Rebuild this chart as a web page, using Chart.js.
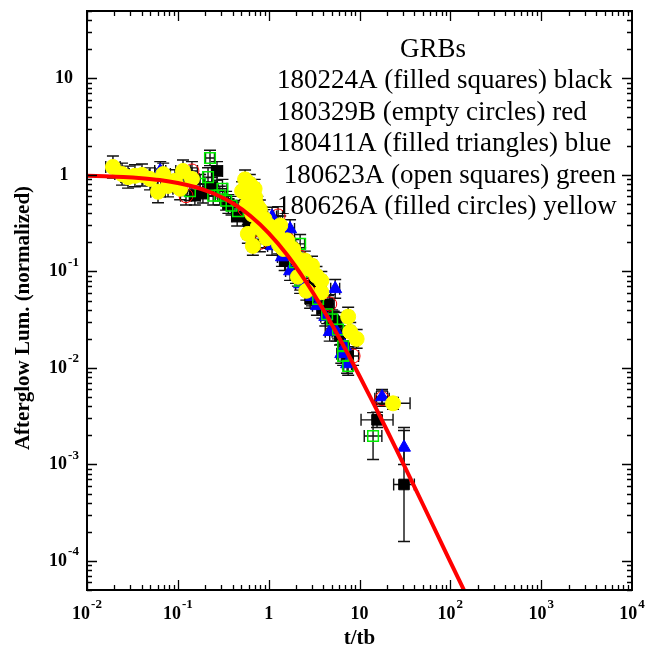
<!DOCTYPE html>
<html>
<head>
<meta charset="utf-8">
<title>GRB afterglow luminosity</title>
<script src="https://cdn.jsdelivr.net/npm/chart.js@4"></script>
<style>
  html, body { margin: 0; padding: 0; background: #fff; }
  canvas { display: block; }
</style>
</head>
<body>
<canvas id="lumChart" width="657" height="651"></canvas>
<script>
// Normalized afterglow light curves, t/tb vs L/Lb
// each point: [t/tb, L, t error factor, L error factor] (errors are x/÷ factors)

const grb180224A = [
    [0.27, 1.10, 1.15, 1.25], [0.154, 0.61, 1.15, 1.25], [0.189, 0.64, 1.15, 1.25],
    [0.237, 0.75, 1.15, 1.25], [0.45, 0.37, 1.15, 1.25], [0.36, 0.50, 1.15, 1.25],
    [0.6, 0.33, 1.12, 1.25], [0.8, 0.27, 1.12, 1.25], [1.2, 0.25, 1.12, 1.25],
    [0.98, 0.217, 1.12, 1.25], [1.5, 0.128, 1.12, 1.25], [1.8, 0.16, 1.12, 1.25],
    [2.0, 0.094, 1.12, 1.25], [2.4, 0.11, 1.12, 1.25], [2.86, 0.052, 1.12, 1.25],
    [3.2, 0.075, 1.12, 1.25], [3.5, 0.066, 1.12, 1.25], [3.9, 0.041, 1.12, 1.25],
    [4.5, 0.045, 1.12, 1.25], [5.2, 0.031, 1.12, 1.25], [5.5, 0.030, 1.12, 1.25],
    [6.1, 0.0216, 1.12, 1.25], [7.5, 0.0133, 1.12, 1.25],
    [15.6, 0.0029, 1.5, 1.2], [30.9, 0.00062, 1.3, 3.9]
];

const grb180329B = [
    [0.143, 1.10, 1.15, 1.25], [0.123, 0.61, 1.15, 1.25], [0.55, 0.44, 1.12, 1.25],
    [0.84, 0.37, 1.12, 1.25], [0.80, 0.20, 1.12, 1.25], [1.27, 0.376, 1.12, 1.25],
    [1.6, 0.217, 1.12, 1.25], [2.22, 0.141, 1.12, 1.25], [3.25, 0.080, 1.12, 1.25],
    [4.7, 0.046, 1.12, 1.25], [8.5, 0.0133, 1.15, 1.25], [17.7, 0.0048, 1.2, 1.2]
];

const grb180411A = [
    [0.064, 1.10, 1.15, 1.25], [0.71, 0.39, 1.12, 1.25], [1.09, 0.37, 1.12, 1.25],
    [1.72, 0.275, 1.12, 1.25], [1.09, 0.184, 1.12, 1.25], [1.72, 0.207, 1.12, 1.25],
    [1.4, 0.141, 1.12, 1.25], [1.72, 0.101, 1.12, 1.25], [2.22, 0.074, 1.12, 1.25],
    [3.0, 0.055, 1.12, 1.25], [3.4, 0.044, 1.12, 1.25], [5.4, 0.066, 1.12, 1.25],
    [4.2, 0.034, 1.12, 1.25], [4.7, 0.0237, 1.12, 1.25], [5.6, 0.0237, 1.12, 1.25],
    [6.9, 0.0168, 1.12, 1.25], [7.3, 0.011, 1.12, 1.25], [6.3, 0.014, 1.12, 1.25],
    [17.7, 0.0050, 1.15, 1.2], [30.9, 0.0015, 1.0, 1.5]
];

const grb180623A = [
    [0.226, 1.50, 1.12, 1.2], [0.215, 0.95, 1.12, 1.25], [0.176, 0.81, 1.12, 1.25],
    [0.136, 0.68, 1.12, 1.25], [0.245, 0.61, 1.12, 1.25], [0.29, 0.61, 1.12, 1.25],
    [0.34, 0.54, 1.12, 1.25], [0.39, 0.48, 1.12, 1.25], [0.31, 0.72, 1.12, 1.25],
    [0.46, 0.42, 1.12, 1.25], [1.5, 0.193, 1.12, 1.25], [2.22, 0.193, 1.12, 1.25],
    [1.95, 0.125, 1.12, 1.25], [2.22, 0.080, 1.12, 1.25], [2.5, 0.101, 1.12, 1.25],
    [3.5, 0.052, 1.12, 1.25], [4.4, 0.036, 1.12, 1.25], [5.0, 0.032, 1.12, 1.25],
    [5.8, 0.025, 1.12, 1.25], [6.6, 0.0168, 1.12, 1.25], [6.6, 0.0133, 1.12, 1.25],
    [7.5, 0.0105, 1.12, 1.25], [14.1, 0.00197, 1.25, 1.75]
];

const grb180626A = [
    [0.0193, 1.21, 1.2, 1.3], [0.0243, 1.02, 1.2, 1.3], [0.0283, 0.95, 1.2, 1.3],
    [0.0337, 0.98, 1.2, 1.3], [0.0403, 1.0, 1.2, 1.3], [0.0494, 0.91, 1.2, 1.3],
    [0.0605, 0.67, 1.2, 1.3], [0.069, 1.02, 1.2, 1.3], [0.078, 0.77, 1.2, 1.3],
    [0.093, 0.87, 1.2, 1.3], [0.106, 0.72, 1.2, 1.3], [0.114, 1.10, 1.2, 1.3],
    [0.143, 0.91, 1.2, 1.3], [0.51, 0.68, 1.12, 1.25], [0.58, 0.50, 1.12, 1.25],
    [0.62, 0.81, 1.12, 1.25], [0.66, 0.39, 1.12, 1.25], [0.71, 0.59, 1.12, 1.25],
    [0.76, 0.29, 1.12, 1.25], [0.67, 0.184, 1.12, 1.25], [0.80, 0.44, 1.12, 1.25],
    [0.87, 0.26, 1.12, 1.25], [0.59, 0.245, 1.12, 1.25], [0.70, 0.72, 1.12, 1.25],
    [0.55, 0.90, 1.12, 1.25], [0.60, 0.62, 1.12, 1.25], [0.75, 0.48, 1.12, 1.25],
    [0.90, 0.35, 1.12, 1.25], [1.0, 0.30, 1.12, 1.25], [1.1, 0.26, 1.12, 1.25],
    [0.95, 0.22, 1.12, 1.25], [1.6, 0.21, 1.12, 1.25], [1.3, 0.19, 1.12, 1.25],
    [2.0, 0.14, 1.12, 1.25], [2.5, 0.13, 1.12, 1.25], [3.0, 0.115, 1.12, 1.25],
    [1.34, 0.30, 1.12, 1.25], [1.24, 0.245, 1.12, 1.25], [1.45, 0.171, 1.12, 1.25],
    [1.86, 0.171, 1.12, 1.25], [2.31, 0.120, 1.12, 1.25], [2.1, 0.088, 1.12, 1.25],
    [2.86, 0.106, 1.12, 1.25], [3.36, 0.090, 1.12, 1.25], [3.8, 0.080, 1.12, 1.25],
    [2.6, 0.063, 1.12, 1.25], [3.8, 0.061, 1.12, 1.25], [7.5, 0.034, 1.12, 1.25],
    [7.9, 0.0237, 1.12, 1.25], [9.3, 0.020, 1.12, 1.25], [23.4, 0.0043, 1.54, 1.15]
];

// fitted curve
const fitT = [0.01, 0.0158, 0.0251, 0.0398, 0.0631, 0.1, 0.158, 0.251, 0.398, 0.631, 1.0,
              1.585, 2.512, 3.981, 6.31, 10, 15.85, 25.12, 39.8, 63.1, 100, 158.5];
const fitL = [0.980, 0.969, 0.952, 0.925, 0.886, 0.826, 0.745, 0.639, 0.512, 0.376, 0.25,
              0.150, 0.0811, 0.0403, 0.0187, 0.00826, 0.00352, 0.00147, 0.000601, 0.000243,
              0.000098, 0.0000398];

const xTicks = [0.01, 0.1, 1, 10, 100, 1000, 10000];
const xTickLabels = [['10', '-2'], ['10', '-1'], ['1', ''], ['10', ''], ['10', '2'], ['10', '3'], ['10', '4']];
const yTicks = [0.0001, 0.001, 0.01, 0.1, 1, 10];
const yTickLabels = [['10', '-4'], ['10', '-3'], ['10', '-2'], ['10', '-1'], ['1', ''], ['10', '']];

const legendTitle = 'GRBs';
const legendLines = [
    '180224A (filled squares) black',
    '180329B (empty circles) red',
    '180411A (filled triangles) blue',
    ' 180623A (open squares) green',
    '180626A (filled circles) yellow'
];

const SERIF = '"Liberation Serif", "Times New Roman", serif';

function toPoints(rows) {
    return rows.map(r => ({ x: r[0], y: r[1], xf: r[2], yf: r[3] }));
}

// error bars with end caps, under the markers
const errorBarPlugin = {
    id: 'errorBars',
    beforeDatasetsDraw(chart) {
        const { ctx, scales: { x, y } } = chart;
        const cap = 6;
        ctx.save();
        ctx.beginPath();
        ctx.rect(chart.chartArea.left, chart.chartArea.top, chart.chartArea.width, chart.chartArea.height);
        ctx.clip();
        ctx.strokeStyle = '#111';
        ctx.lineWidth = 1.4;
        chart.data.datasets.forEach(ds => {
            if (ds.type !== 'scatter') return;
            ds.data.forEach(p => {
                const px = x.getPixelForValue(p.x);
                const py = y.getPixelForValue(p.y);
                ctx.beginPath();
                if (p.yf > 1) {
                    const y0 = y.getPixelForValue(p.y / p.yf);
                    const y1 = y.getPixelForValue(p.y * p.yf);
                    ctx.moveTo(px, y0); ctx.lineTo(px, y1);
                    ctx.moveTo(px - cap, y0); ctx.lineTo(px + cap, y0);
                    ctx.moveTo(px - cap, y1); ctx.lineTo(px + cap, y1);
                }
                if (p.xf > 1) {
                    const x0 = x.getPixelForValue(p.x / p.xf);
                    const x1 = x.getPixelForValue(p.x * p.xf);
                    ctx.moveTo(x0, py); ctx.lineTo(x1, py);
                    ctx.moveTo(x0, py - cap); ctx.lineTo(x0, py + cap);
                    ctx.moveTo(x1, py - cap); ctx.lineTo(x1, py + cap);
                }
                ctx.stroke();
            });
        });
        ctx.restore();
    }
};

function drawPower(ctx, base, exp, cx, cy) {
    ctx.font = 'bold 18px ' + SERIF;
    const wb = ctx.measureText(base).width;
    ctx.font = 'bold 13px ' + SERIF;
    const we = exp ? ctx.measureText(exp).width + 1 : 0;
    const left = cx - (wb + we) / 2;
    ctx.textBaseline = 'middle';
    ctx.textAlign = 'left';
    ctx.font = 'bold 18px ' + SERIF;
    ctx.fillText(base, left, cy);
    if (exp) {
        ctx.font = 'bold 13px ' + SERIF;
        ctx.fillText(exp, left + wb + 1, cy - 9);
    }
}

// frame, inward ticks on all four sides, tick labels, titles and legend text
const framePlugin = {
    id: 'frame',
    afterDraw(chart) {
        const { ctx, chartArea: a, scales: { x, y } } = chart;
        ctx.save();
        ctx.strokeStyle = '#000';
        ctx.fillStyle = '#000';
        ctx.lineWidth = 1.3;
        ctx.beginPath();
        for (let d = -2; d < 4; d++) {
            for (let m = 1; m < 10; m++) {
                const v = m * Math.pow(10, d);
                const px = Math.round(x.getPixelForValue(v)) + 0.5;
                const len = m === 1 ? 10 : 5;
                ctx.moveTo(px, a.bottom); ctx.lineTo(px, a.bottom - len);
                ctx.moveTo(px, a.top); ctx.lineTo(px, a.top + len);
            }
        }
        for (let d = -5; d < 2; d++) {
            for (let m = 1; m < 10; m++) {
                const v = m * Math.pow(10, d);
                if (v < y.min || v > y.max) continue;
                const py = Math.round(y.getPixelForValue(v)) + 0.5;
                const len = m === 1 ? 10 : 5;
                ctx.moveTo(a.left, py); ctx.lineTo(a.left + len, py);
                ctx.moveTo(a.right, py); ctx.lineTo(a.right - len, py);
            }
        }
        ctx.stroke();
        ctx.lineWidth = 2;
        ctx.strokeRect(a.left, a.top, a.width, a.height);

        xTicks.forEach((v, i) => {
            drawPower(ctx, xTickLabels[i][0], xTickLabels[i][1], x.getPixelForValue(v), a.bottom + 24);
        });
        yTicks.forEach((v, i) => {
            drawPower(ctx, yTickLabels[i][0], yTickLabels[i][1], a.left - 23, y.getPixelForValue(v));
        });

        ctx.textAlign = 'center';
        ctx.textBaseline = 'alphabetic';
        ctx.font = 'bold 21px ' + SERIF;
        ctx.fillText('t/tb', (a.left + a.right) / 2, 644);
        ctx.save();
        ctx.translate(29, 318);
        ctx.rotate(-Math.PI / 2);
        ctx.fillText('Afterglow Lum. (normalized)', 0, 0);
        ctx.restore();

        ctx.font = '27px ' + SERIF;
        ctx.fillText(legendTitle, 433, 57);
        ctx.textAlign = 'left';
        legendLines.forEach((s, i) => ctx.fillText(s, 277, 88 + i * 31.5));
        ctx.restore();
    }
};

function scatterSet(label, rows, style, radius, fill, stroke, width, order) {
    return {
        type: 'scatter',
        label: label,
        data: toPoints(rows),
        pointStyle: style,
        pointRadius: radius,
        backgroundColor: fill,
        borderColor: stroke,
        borderWidth: width,
        order: order
    };
}

new Chart(document.getElementById('lumChart'), {
    data: {
        datasets: [
            {
                type: 'line',
                label: 'fit',
                data: fitT.map((t, i) => ({ x: t, y: fitL[i] })),
                borderColor: '#ff0000',
                borderWidth: 4,
                pointRadius: 0,
                tension: 0.3,
                fill: false,
                order: 0
            },
            scatterSet('180626A', grb180626A, 'circle', 7.5, '#ffff00', '#ffff00', 1, 1),
            scatterSet('180623A', grb180623A, 'rect', 7.5, 'rgba(0,0,0,0)', '#00ee00', 1.5, 2),
            scatterSet('180411A', grb180411A, 'triangle', 7.5, '#0000ff', '#0000ff', 1, 3),
            scatterSet('180329B', grb180329B, 'circle', 7, 'rgba(0,0,0,0)', '#ff0000', 1, 4),
            scatterSet('180224A', grb180224A, 'rect', 7.5, '#000000', '#000000', 1, 5)
        ]
    },
    options: {
        responsive: false,
        devicePixelRatio: 1,
        animation: false,
        layout: { padding: { left: 87, right: 25, top: 11, bottom: 61 } },
        plugins: { legend: { display: false }, tooltip: { enabled: false } },
        scales: {
            x: { type: 'logarithmic', min: 0.01, max: 10000, display: false },
            y: { type: 'logarithmic', min: 0.00005, max: 50, display: false }
        }
    },
    plugins: [errorBarPlugin, framePlugin]
});
</script>
</body>
</html>
